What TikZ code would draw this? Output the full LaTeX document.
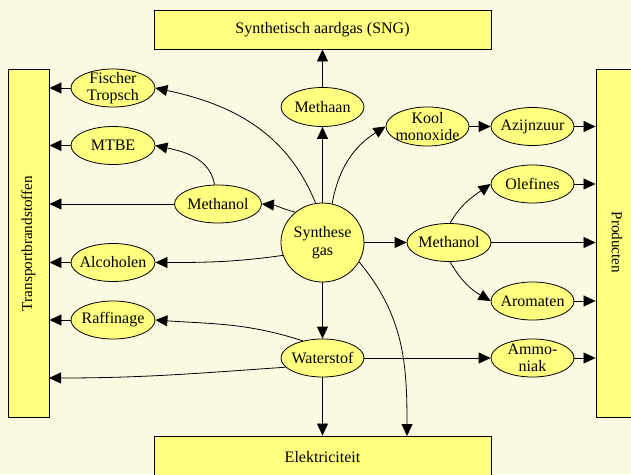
\documentclass[tikz,border=0pt]{standalone}
\usepackage{fontspec}
\setmainfont{Liberation Serif}
\usetikzlibrary{arrows.meta,shapes.geometric}
\definecolor{bgcol}{HTML}{FCF9E3}
\definecolor{yfill}{HTML}{FFFF80}
\begin{document}
\begin{tikzpicture}[x=1pt,y=1pt,
  font=\fontsize{16}{17.5}\selectfont,
  box/.style={draw, line width=0.9pt, fill=yfill, inner sep=0pt},
  sidetext/.style={font=\fontsize{15.2}{17}\selectfont, inner sep=0pt},
  ell/.style={ellipse, draw, line width=0.8pt, fill=yfill, inner sep=0pt,
              minimum width=84pt, minimum height=38pt},
  every label/.style={align=center, inner sep=0pt},
  arr/.style={line width=0.8pt, -{Triangle[length=12pt,width=11pt]}}
]
\clip (0,0) rectangle (631,474);
\fill[bgcol] (0,0) rectangle (631,474);
\useasboundingbox (0,0) rectangle (631,474);

% boxes
\node[box, minimum width=337pt, minimum height=39pt] (sng) at (322.5,444.5) {Synthetisch aardgas (SNG)};
\node[box, minimum width=337pt, minimum height=42pt] (elek) at (322.5,17) {Elektriciteit};
\node[box, minimum width=41pt, minimum height=348pt] (tr) at (28.5,231) {};
\node[sidetext, rotate=90] (trtext) at (28.5,230.5) {Transportbrandstoffen};
\node[box, minimum width=44pt, minimum height=348pt] (prod) at (618,231) {};
\node[sidetext, rotate=-90] (prodtext) at (617,231.5) {Producten};

% ellipses
\node[ell, label={[align=center]center:{Fischer\\Tropsch}}] (fis) at (113,386) {};
\node[ell, label={center:MTBE}] (mtbe) at (113,328.5) {};
\node[ell, label={center:Alcoholen}] (alc) at (113,211.5) {};
\node[ell, label={center:Raffinage}] (raff) at (113,154) {};
\node[ell, minimum width=87pt, label={center:Methanol}] (ml) at (218,270) {};
\node[ell, minimum width=83pt, minimum height=79pt, label={[align=center]center:{Synthese\\gas}}] (syn) at (322.5,231.5) {};
\node[ell, minimum width=83pt, minimum height=39pt, label={center:Methaan}] (meth) at (322.5,367) {};
\node[ell, minimum width=83pt, label={center:Waterstof}] (wat) at (322.5,116) {};
\node[ell, minimum width=83pt, minimum height=39pt, label={[align=center]center:{Kool\\monoxide}}] (kool) at (427.5,347.5) {};
\node[ell, minimum width=83pt, label={center:Azijnzuur}] (azi) at (532.5,347.5) {};
\node[ell, minimum width=83pt, label={center:Olefines}] (olef) at (532.5,290) {};
\node[ell, minimum width=84pt, label={center:Methanol}] (mr) at (449,231.5) {};
\node[ell, minimum width=83pt, label={center:Aromaten}] (arom) at (532.5,173) {};
\node[ell, minimum width=83pt, label={[align=center]center:{Ammo-\\niak}}] (ammo) at (532.5,116) {};

\coordinate (elekin) at (407,38);
\coordinate (trin) at (49,96);

% straight connectors
\draw[arr] (meth.north) -- (sng.south);
\draw[arr] (syn.north) -- (meth.south);
\draw[arr] (syn.south) -- (wat.north);
\draw[arr] (wat.south) -- (elek.north);
\draw[arr] (syn.east) -- (mr.west);
\draw[arr] (wat.east) -- (ammo.west);
\draw[arr] (kool.east) -- (azi.west);
\draw[arr] (azi.east) -- (azi.east -| prod.west);
\draw[arr] (olef.east) -- (olef.east -| prod.west);
\draw[arr] (mr.east) -- (mr.east -| prod.west);
\draw[arr] (arom.east) -- (arom.east -| prod.west);
\draw[arr] (ammo.east) -- (ammo.east -| prod.west);
\draw[arr] (fis.west) -- (fis.west -| tr.east);
\draw[arr] (mtbe.west) -- (mtbe.west -| tr.east);
\draw[arr] (alc.west) -- (alc.west -| tr.east);
\draw[arr] (raff.west) -- (raff.west -| tr.east);
\draw[arr] (ml.west) -- (ml.west -| tr.east);

% curved connectors
\draw[arr] (syn.100) to[out=112,in=-12] (fis.east);
\draw[arr] (syn.132) to[out=165,in=-5] (ml.east);
\draw[arr] (ml.100) to[out=100,in=-12] (mtbe.east);
\draw[arr] (syn.198) to[out=188,in=0] (alc.east);
\draw[arr] (wat.139) to[out=162,in=-4] (raff.east);
\draw[arr] (wat.194) to[out=184,in=0] (trin);
\draw[arr] (syn.76) to[out=80,in=212] (kool.west);
\draw[arr] (mr.87) to[out=60,in=215] (olef.west);
\draw[arr] (mr.-87) to[out=-60,in=150] (arom.west);
\draw[arr] (syn.-28) to[out=-50,in=90] (elekin);
\end{tikzpicture}
\end{document}
